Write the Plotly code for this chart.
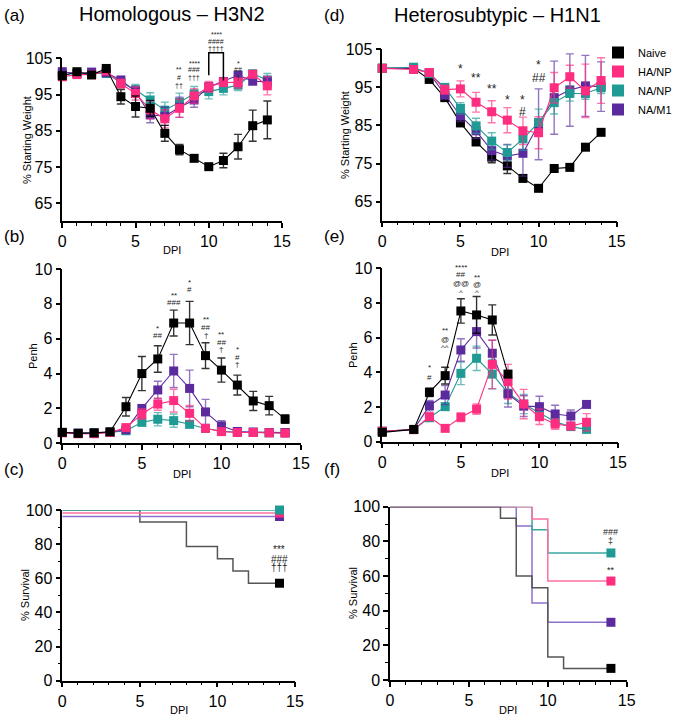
import plotly.graph_objects as go

W, H = 675, 720

# ---------------- DATA ----------------
groups = ["Naive", "HA/NP", "NA/NP", "NA/M1"]
colors = {"Naive": "#000000", "HA/NP": "#FF2D7F", "NA/NP": "#1F9A95", "NA/M1": "#5B2B9E"}
surv_line_colors = {"Naive": "#555555", "HA/NP": "#FF6FA3", "NA/NP": "#3AA8A2", "NA/M1": "#8E70CC"}

# (a) Homologous H3N2 weight
dpi_a = [0, 1, 2, 3, 4, 5, 6, 7, 8, 9, 10, 11, 12, 13, 14]
a_naive = [100.2, 101.3, 100.4, 102.2, 94.4, 91.7, 91.2, 84.3, 79.8, 77.4, 75.1, 76.8, 80.6, 86.4, 88.0]
a_naive_err = [0.5, 0.5, 0.5, 0.5, 2.0, 2.9, 2.2, 2.2, 1.4, 0.5, 0.5, 2.0, 3.4, 4.3, 5.2]
a_hanp = [99.9, 100.5, 100.5, 101.5, 98.0, 95.3, 90.8, 88.3, 91.2, 94.6, 97.1, 98.4, 98.3, 100.6, 97.4]
a_hanp_err = [0.8, 0.8, 0.8, 0.8, 1.2, 1.8, 2.5, 2.5, 2.5, 2.0, 1.5, 1.2, 1.5, 1.0, 2.5]
a_nanp = [100.5, 100.8, 100.8, 100.8, 98.3, 96.3, 93.5, 90.7, 92.9, 95.2, 95.8, 96.7, 97.6, 100.7, 99.0]
a_nanp_err = [0.8, 0.8, 0.8, 0.8, 1.2, 1.5, 2.0, 2.2, 2.5, 2.0, 2.0, 1.8, 1.5, 1.0, 1.8]
a_nam1 = [101.3, 100.8, 101.2, 101.0, 99.0, 95.8, 89.4, 89.0, 91.5, 93.5, 97.1, 98.6, 100.3, 98.7, 98.5]
a_nam1_err = [0.6, 0.6, 0.6, 0.6, 1.0, 1.5, 2.2, 2.5, 2.8, 2.0, 1.2, 1.0, 1.0, 1.0, 1.5]

# (d) Heterosubtypic H1N1 weight
dpi_d = [0, 2, 3, 4, 5, 6, 7, 8, 9, 10, 11, 12, 13, 14]
d_naive = [100.0, 100.0, 97.1, 92.3, 85.7, 80.7, 76.7, 74.4, 71.1, 68.5, 73.7, 74.0, 79.3, 83.2]
d_naive_err = [0.3, 0.4, 0.8, 0.8, 1.0, 1.0, 1.5, 2.0, 0.6, 0.6, 0.3, 0.3, 0.3, 0.3]
d_hanp = [100.0, 99.7, 98.9, 94.4, 94.6, 91.1, 88.6, 86.4, 83.6, 83.1, 94.9, 97.8, 94.1, 96.8]
d_hanp_err = [0.3, 0.5, 0.8, 1.2, 2.1, 2.6, 2.9, 3.3, 3.6, 4.2, 4.0, 3.0, 7.0, 6.0]
d_nanp = [100.0, 100.3, 98.6, 95.0, 89.5, 84.9, 80.9, 77.9, 81.5, 85.8, 91.0, 93.4, 93.4, 94.9]
d_nanp_err = [0.3, 0.5, 0.8, 1.0, 1.5, 2.0, 2.2, 2.0, 3.0, 3.5, 3.0, 2.0, 1.5, 1.5]
d_nam1 = [100.0, 100.1, 98.8, 93.0, 87.5, 83.6, 78.4, 77.0, 77.7, 85.3, 92.3, 94.3, 95.4, 95.2]
d_nam1_err = [0.3, 0.5, 0.8, 1.0, 1.5, 2.0, 2.5, 3.0, 6.0, 9.3, 9.6, 9.5, 8.0, 6.5]

# (b) Homologous Penh
dpi_b = [0, 1, 2, 3, 4, 5, 6, 7, 8, 9, 10, 11, 12, 13, 14]
b_naive = [0.63, 0.57, 0.60, 0.66, 2.10, 4.00, 4.84, 6.90, 6.90, 5.03, 4.20, 3.34, 2.43, 2.16, 1.39]
b_naive_err = [0.05, 0.05, 0.05, 0.05, 0.53, 0.98, 0.76, 0.74, 1.24, 0.74, 0.69, 0.57, 0.55, 0.53, 0.24]
b_hanp = [0.60, 0.55, 0.55, 0.62, 0.90, 1.68, 2.25, 2.45, 1.72, 0.86, 0.67, 0.62, 0.62, 0.60, 0.58]
b_hanp_err = [0.05, 0.05, 0.05, 0.05, 0.10, 0.30, 0.35, 0.65, 0.45, 0.15, 0.10, 0.05, 0.05, 0.05, 0.05]
b_nanp = [0.62, 0.58, 0.60, 0.62, 0.72, 1.20, 1.38, 1.30, 1.09, 0.85, 0.70, 0.63, 0.62, 0.60, 0.60]
b_nanp_err = [0.05, 0.05, 0.05, 0.05, 0.08, 0.15, 0.38, 0.38, 0.20, 0.10, 0.08, 0.05, 0.05, 0.05, 0.05]
b_nam1 = [0.62, 0.58, 0.58, 0.64, 0.78, 2.00, 3.06, 4.15, 3.15, 1.80, 1.00, 0.68, 0.65, 0.62, 0.62]
b_nam1_err = [0.05, 0.05, 0.05, 0.05, 0.10, 0.20, 0.50, 0.95, 1.05, 0.72, 0.30, 0.08, 0.05, 0.05, 0.05]

# (e) Heterosubtypic Penh
dpi_e_naive = [0, 2, 3, 4, 5, 6, 7, 8]
e_naive = [0.54, 0.71, 2.85, 3.81, 7.54, 7.31, 7.02, 3.90]
e_naive_err = [0.05, 0.05, 0.24, 0.48, 0.70, 1.06, 0.87, 0.15]
dpi_e = [0, 2, 3, 4, 5, 6, 7, 8, 9, 10, 11, 12, 13]
e_hanp = [0.60, 0.70, 1.44, 0.77, 1.41, 1.88, 4.46, 3.46, 2.17, 1.44, 1.02, 0.90, 1.12]
e_hanp_err = [0.05, 0.05, 0.20, 0.10, 0.25, 0.30, 1.40, 1.00, 0.85, 0.45, 0.30, 0.20, 0.50]
e_nanp = [0.60, 0.70, 1.38, 2.02, 3.94, 4.81, 3.90, 2.80, 2.17, 1.65, 1.15, 0.87, 0.71]
e_nanp_err = [0.05, 0.05, 0.15, 0.20, 0.65, 0.70, 0.85, 0.60, 0.55, 0.35, 0.25, 0.15, 0.10]
e_nam1 = [0.60, 0.70, 2.08, 2.69, 5.29, 6.35, 5.10, 2.75, 2.05, 2.02, 1.60, 1.48, 2.15]
e_nam1_err = [0.05, 0.05, 0.30, 0.55, 0.65, 0.95, 0.75, 0.75, 0.60, 0.60, 0.50, 0.35, 0.10]

# (c) Homologous survival (step curves)
c_naive_t = [0, 5, 8, 10, 11, 12, 14]
c_naive_s = [100, 92.9, 78.6, 71.4, 64.3, 57.1, 57.1]
c_hanp_t = [0, 14]
c_hanp_s = [98.2, 98.2]
c_nanp_t = [0, 14]
c_nanp_s = [100, 100]
c_nam1_t = [0, 14]
c_nam1_s = [96.2, 96.2]

# (f) Heterosubtypic survival
f_naive_t = [0, 7, 8, 9, 10, 11, 14]
f_naive_s = [100, 93.3, 60.0, 53.3, 13.3, 6.7, 6.7]
f_hanp_t = [0, 9, 10, 14]
f_hanp_s = [100, 92.9, 57.1, 57.1]
f_nanp_t = [0, 9, 10, 14]
f_nanp_s = [100, 86.7, 73.3, 73.3]
f_nam1_t = [0, 8, 9, 10, 14]
f_nam1_s = [100, 88.9, 44.4, 33.3, 33.3]

# significance labels: (x, y, text)
sig_a = [(8, 102.0, "**"), (8, 99.8, "#"), (8, 97.6, "††"),
         (9, 103.7, "****"), (9, 101.8, "###"), (9, 99.8, "†††"),
         (10.5, 111.7, "****"), (10.5, 109.6, "####"), (10.5, 107.7, "††††"),
         (12, 103.5, "*"), (12, 101.8, "##"), (12, 99.8, "†")]
sig_b = [(6, 6.6, "*"), (6, 6.2, "##"), (7, 8.5, "**"), (7, 8.1, "###"),
         (8, 9.2, "*"), (8, 8.8, "#"), (9, 7.13, "**"), (9, 6.67, "##"), (9, 6.2, "†"),
         (10, 6.27, "**"), (10, 5.81, "##"), (10, 5.38, "†"),
         (11, 5.41, "*"), (11, 4.95, "#"), (11, 4.5, "†")]
sig_c = [(14, 76.6, "***"), (14, 71.1, "###"), (14, 66.2, "†††")]
sig_d = [(5, 99.8, "*"), (6, 97.5, "**"), (7, 94.6, "**"), (8, 91.7, "*"),
         (9, 91.7, "*"), (9, 88.5, "#"), (10, 100.9, "*"), (10, 97.5, "##")]
sig_e = [(3, 4.29, "*"), (3, 3.71, "#"), (4, 6.44, "**"), (4, 5.92, "@"), (4, 5.44, "^^"),
         (5, 10.06, "****"), (5, 9.65, "##"), (5, 9.13, "@@"), (5, 8.62, "^"),
         (6, 9.48, "**"), (6, 9.04, "@"), (6, 8.62, "^")]
sig_f = [(14, 85.6, "###"), (14, 80.2, "‡"), (14, 63.5, "**")]
bracket_a = [(10, 100.3), (10, 106.5), (11, 106.5), (11, 98.9)]

# ---------------- LAYOUT GEOMETRY (pixels) ----------------
FONT = "Liberation Sans, Arial, sans-serif"

def xdom(l, r):
    return [l / W, r / W]

def ydom(t, b):
    return [1 - b / H, 1 - t / H]

panels = {
    # key: (axis suffix, x px range, y px range (top,bottom), y range, y dtick, y tick0, y minor)
    "a": ("", (62.3, 282), (58.3, 221.4), [60, 105], 10, 65, None),
    "b": ("2", (62.3, 301), (269, 443.3), [0, 10], 2, 0, None),
    "c": ("3", (62.3, 295), (510, 680.7), [0, 100], 20, 0, 10),
    "d": ("4", (382.3, 616.7), (49.3, 220.7), [60, 105], 10, 65, None),
    "e": ("5", (382.3, 618), (268.3, 441.7), [0, 10], 2, 0, None),
    "f": ("6", (390, 626.7), (506.7, 680), [0, 100], 20, 0, 10),
}
XR = [0, 15]


def to_paper(p, xv, yv):
    _, (xl, xr), (yt, yb), yr, *_ = panels[p]
    px = xl + (xv - XR[0]) / (XR[1] - XR[0]) * (xr - xl)
    py = yb - (yv - yr[0]) / (yr[1] - yr[0]) * (yb - yt)
    return px / W, 1 - py / H


fig = go.Figure()


def rgba(hexc, a):
    h = hexc.lstrip("#")
    r, g, b = int(h[0:2], 16), int(h[2:4], 16), int(h[4:6], 16)
    return f"rgba({r},{g},{b},{a})"


def add_series(p, x, y, err, grp, showlegend):
    s = panels[p][0]
    xa, ya = "x" + s, "y" + s
    c = colors[grp]
    fig.add_trace(go.Scatter(x=x, y=y, mode="lines", line=dict(color=c, width=1.1),
                             xaxis=xa, yaxis=ya, showlegend=False, hoverinfo="skip"))
    fig.add_trace(go.Scatter(x=x, y=y, mode="markers", name=grp, legendgroup=grp,
                             legendrank=groups.index(grp) + 1,
                             marker=dict(symbol="square", size=9, color=c, line=dict(width=0)),
                             error_y=dict(type="data", array=err, visible=True,
                                          color=rgba(c, 0.65) if grp != "Naive" else rgba(c, 0.8),
                                          thickness=1.4, width=4),
                             xaxis=xa, yaxis=ya, showlegend=showlegend, cliponaxis=False))


def add_survival(p, t, s_vals, grp):
    s = panels[p][0]
    xa, ya = "x" + s, "y" + s
    fig.add_trace(go.Scatter(x=t, y=s_vals, mode="lines", line=dict(color=surv_line_colors[grp], width=1.5, shape="hv"),
                             xaxis=xa, yaxis=ya, showlegend=False, hoverinfo="skip", cliponaxis=False))
    fig.add_trace(go.Scatter(x=[t[-1]], y=[s_vals[-1]], mode="markers",
                             marker=dict(symbol="square", size=9, color=colors[grp]),
                             xaxis=xa, yaxis=ya, showlegend=False, cliponaxis=False))


# weight panels
add_series("a", dpi_a, a_nanp, a_nanp_err, "NA/NP", False)
add_series("a", dpi_a, a_nam1, a_nam1_err, "NA/M1", False)
add_series("a", dpi_a, a_hanp, a_hanp_err, "HA/NP", False)
add_series("a", dpi_a, a_naive, a_naive_err, "Naive", False)

add_series("d", dpi_d, d_naive, d_naive_err, "Naive", True)
add_series("d", dpi_d, d_nam1, d_nam1_err, "NA/M1", True)
add_series("d", dpi_d, d_nanp, d_nanp_err, "NA/NP", True)
add_series("d", dpi_d, d_hanp, d_hanp_err, "HA/NP", True)

add_series("b", dpi_b, b_nanp, b_nanp_err, "NA/NP", False)
add_series("b", dpi_b, b_nam1, b_nam1_err, "NA/M1", False)
add_series("b", dpi_b, b_hanp, b_hanp_err, "HA/NP", False)
add_series("b", dpi_b, b_naive, b_naive_err, "Naive", False)

add_series("e", dpi_e, e_nanp, e_nanp_err, "NA/NP", False)
add_series("e", dpi_e, e_nam1, e_nam1_err, "NA/M1", False)
add_series("e", dpi_e, e_hanp, e_hanp_err, "HA/NP", False)
add_series("e", dpi_e_naive, e_naive, e_naive_err, "Naive", False)

add_survival("c", c_naive_t, c_naive_s, "Naive")
add_survival("c", c_nam1_t, c_nam1_s, "NA/M1")
add_survival("c", c_hanp_t, c_hanp_s, "HA/NP")
add_survival("c", c_nanp_t, c_nanp_s, "NA/NP")

add_survival("f", f_nam1_t, f_nam1_s, "NA/M1")
add_survival("f", f_nanp_t, f_nanp_s, "NA/NP")
add_survival("f", f_hanp_t, f_hanp_s, "HA/NP")
add_survival("f", f_naive_t, f_naive_s, "Naive")

layout = dict(width=W, height=H, margin=dict(l=0, r=0, t=0, b=0, autoexpand=False),
              paper_bgcolor="white", plot_bgcolor="white",
              font=dict(family=FONT, color="black"),
              showlegend=True,
              legend=dict(x=598 / W, y=1 - 38 / H, xanchor="left", yanchor="top",
                          font=dict(size=11, family=FONT), bgcolor="rgba(0,0,0,0)",
                          tracegroupgap=0, itemsizing="constant", borderwidth=0))

for p, (s, (xl, xr), (yt, yb), yr, ydt, y0, yminor) in panels.items():
    xk, yk = "xaxis" + s, "yaxis" + s
    layout[xk] = dict(domain=xdom(xl, xr), range=XR, anchor="y" + s,
                      showline=True, linecolor="black", linewidth=1.5,
                      ticks="outside", ticklen=5, tickwidth=1.5, tickcolor="black",
                      tick0=0, dtick=5, showgrid=False, zeroline=False,
                      tickfont=dict(size=16, family=FONT),
                      minor=dict(ticks="outside", ticklen=3, tickwidth=1.2, tickcolor="black", dtick=1, tick0=0, showgrid=False))
    ydict = dict(domain=ydom(yt, yb), range=yr, anchor="x" + s,
                 showline=True, linecolor="black", linewidth=1.5,
                 ticks="outside", ticklen=5, tickwidth=1.5, tickcolor="black",
                 tick0=y0, dtick=ydt, showgrid=False, zeroline=False,
                 tickfont=dict(size=16, family=FONT))
    if yminor:
        ydict["minor"] = dict(ticks="outside", ticklen=3, tickwidth=1.2, tickcolor="black", dtick=yminor, tick0=0, showgrid=False)
    layout[yk] = ydict

fig.update_layout(**layout)

annotations = []


def paper_ann(text, xpx, ypx, size, angle=0, xanchor="center"):
    annotations.append(dict(text=text, x=xpx / W, y=1 - ypx / H, xref="paper", yref="paper",
                            showarrow=False, font=dict(size=size, family=FONT, color="black"),
                            textangle=angle, xanchor=xanchor, yanchor="middle"))


# titles and panel labels
paper_ann("Homologous – H3N2", 172, 14, 20)
paper_ann("Heterosubtypic – H1N1", 497, 15, 20)
for lab, xp, yp in [("(a)", 2, 15), ("(b)", 2, 237), ("(c)", 2, 469),
                    ("(d)", 322, 15), ("(e)", 322, 237), ("(f)", 322, 469)]:
    paper_ann(lab, xp, yp, 17, xanchor="left")

# axis titles
for txt, xp, yp in [("% Starting Weight", 27, 140), ("% Starting Weight", 345, 135),
                    ("Penh", 33, 356), ("Penh", 353, 355),
                    ("% Survival", 25, 595), ("% Survival", 353, 593)]:
    paper_ann(txt, xp, yp, 11, angle=-90)
for xp, yp in [(172, 250), (500, 252), (182, 474), (500, 473), (179, 710), (508, 710)]:
    paper_ann("DPI", xp, yp, 11)

# significance markers (placed in paper coords so labels above the axis range stay visible)
sig_sets = [("a", sig_a, 7), ("b", sig_b, 8), ("c", sig_c, 10), ("d", sig_d, 12), ("e", sig_e, 8), ("f", sig_f, 9)]
for p, items, fs in sig_sets:
    for x, y, t in items:
        px, py = to_paper(p, x, y)
        annotations.append(dict(text=t, x=px, y=py, xref="paper", yref="paper", showarrow=False,
                                font=dict(size=fs, family=FONT, color="#222222"),
                                xanchor="center", yanchor="middle"))

fig.update_layout(annotations=annotations)

# bracket spanning days 10-11 in panel (a)
path = "M " + " L ".join("{},{}".format(*to_paper("a", x, y)) for x, y in bracket_a)
fig.add_shape(type="path", path=path, xref="paper", yref="paper",
              line=dict(color="black", width=1.5))

# remove the default 8px page margin so the 675x720 figure fills the window exactly
fig.write_html("out.html", config={"displayModeBar": False},
               post_script="document.body.style.margin='0px';")
